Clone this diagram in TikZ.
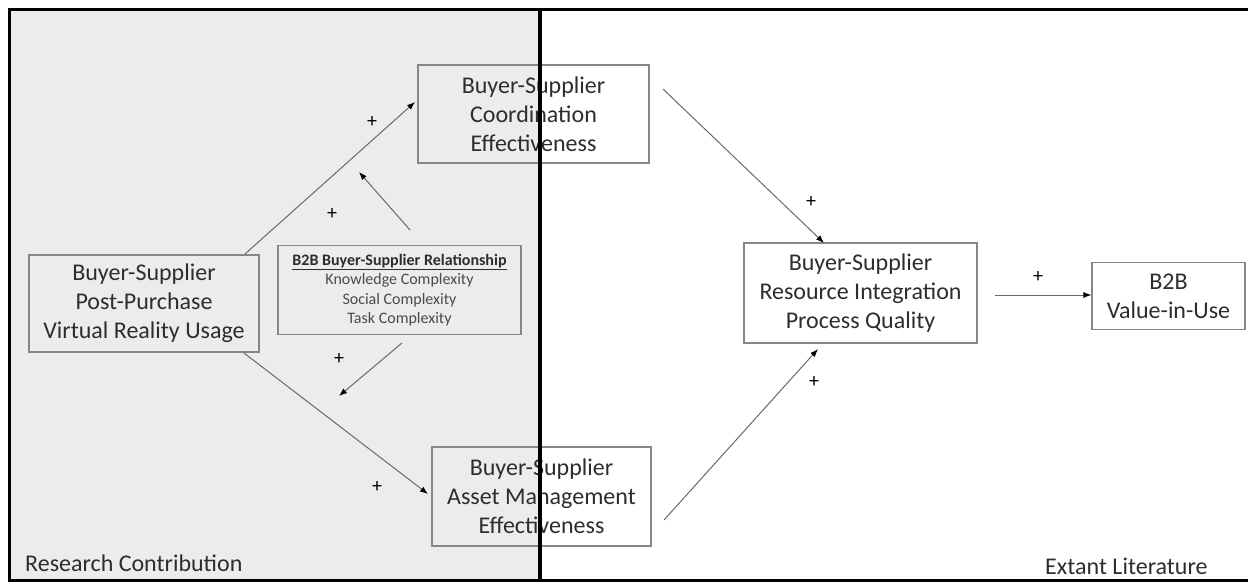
\documentclass[tikz,border=0pt]{standalone}
\usepackage{fontspec}
\setmainfont{Carlito}
\usetikzlibrary{arrows.meta}
\definecolor{bgfill}{RGB}{236,236,236}
\definecolor{boxline}{RGB}{135,135,135}
\definecolor{txt}{RGB}{45,45,45}
\definecolor{reltxt}{RGB}{75,75,75}
\definecolor{arrline}{RGB}{105,105,105}
\begin{document}
\begin{tikzpicture}[x=1pt,y=-1pt,
  box/.style={draw=boxline,line width=1.1pt,inner sep=0pt,align=center,text=txt,font=\fontsize{24}{29}\selectfont},
  arr/.style={draw=arrline,line width=1pt,-{Latex[length=8pt,width=6pt,color=black]}},
  plus/.style={font=\fontsize{20}{24}\selectfont,inner sep=0pt,text=black},
  corner/.style={font=\fontsize{24}{29}\selectfont,text=txt,inner sep=0pt}]
\useasboundingbox (0,0) rectangle (1248,582);
% shaded research-contribution area
\fill[bgfill] (9,9) rectangle (540,580);

% boxes
\node[box,minimum width=230pt,minimum height=97pt] (vr) at (144,303.5)
  {Buyer-Supplier\\Post-Purchase\\Virtual Reality Usage};
\node[box,minimum width=231pt,minimum height=98pt] (coord) at (533.5,114)
  {Buyer-Supplier\\Coordination\\Effectiveness};
\node[box,minimum width=243pt,minimum height=89pt,text=reltxt,font=\fontsize{16}{19.5}\selectfont] (rel) at (399.5,290)
  {\textcolor{txt}{\textbf{\underline{B2B Buyer-Supplier Relationship}}}\\Knowledge Complexity\\Social Complexity\\Task Complexity};
\node[box,minimum width=219pt,minimum height=99pt] (asset) at (541.5,496.5)
  {Buyer-Supplier\\Asset Management\\Effectiveness};
\node[box,minimum width=233pt,minimum height=100pt] (res) at (860.5,293)
  {Buyer-Supplier\\Resource Integration\\Process Quality};
\node[box,minimum width=153pt,minimum height=67pt] (b2b) at (1168.5,296)
  {B2B\\Value-in-Use};

% connector end points
\coordinate (c1s) at (245,254);  \coordinate (c1e) at (415,102);
\coordinate (c2s) at (410,230);  \coordinate (c2e) at (359,172);
\coordinate (c3s) at (244,353);  \coordinate (c3e) at (428,494);
\coordinate (c4s) at (402,343);  \coordinate (c4e) at (339,396);
\coordinate (c5s) at (663,89);   \coordinate (c5e) at (824,243);
\coordinate (c6s) at (664,520);  \coordinate (c6e) at (818,349);
\coordinate (c7s) at (995,295);

\draw[arr] (c1s) -- (c1e);
\draw[arr] (c2s) -- (c2e);
\draw[arr] (c3s) -- (c3e);
\draw[arr] (c4s) -- (c4e);
\draw[arr] (c5s) -- (c5e);
\draw[arr] (c6s) -- (c6e);
\draw[arr] (c7s) -- (b2b.west |- c7s);

% plus signs
\node[plus] (p1) at (372,122) {+};
\node[plus] (p2) at (332,214) {+};
\node[plus] (p3) at (377,487) {+};
\node[plus] (p4) at (339,359) {+};
\node[plus] (p5) at (811,202) {+};
\node[plus] (p6) at (814,382) {+};
\node[plus] (p7) at (1038,277) {+};

% corner labels
\node[corner,anchor=west] (lrc) at (25,563) {Research Contribution};
\node[corner,anchor=west] (lel) at (1045,566) {Extant Literature};

% frame and divider
\draw[line width=3pt] (1252,9) -- (9,9) -- (9,580) -- (1252,580);
\draw[line width=4pt] (540,7.5) -- (540,581.5);
\end{tikzpicture}
\end{document}
